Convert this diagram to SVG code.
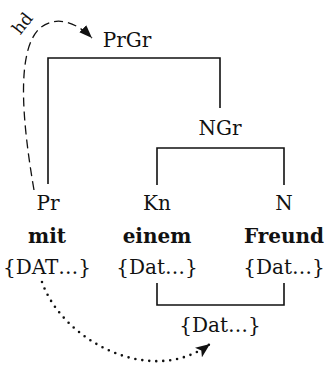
<svg xmlns="http://www.w3.org/2000/svg" width="327" height="368" viewBox="0 0 327 368">
<style>
text{font-family:"DejaVu Serif","Liberation Serif",serif;font-size:20px;fill:#111;text-anchor:middle}
.b{font-weight:bold}
.ln{fill:none;stroke:#111;stroke-width:1.6}
.dash{fill:none;stroke:#111;stroke-width:1.3;stroke-dasharray:9 5}
.dot{fill:none;stroke:#111;stroke-width:2.6;stroke-linecap:round;stroke-dasharray:0 7}
</style>
<defs>
<marker id="ah" viewBox="0 0 12 9" refX="12" refY="4.5" markerWidth="13" markerHeight="10" markerUnits="userSpaceOnUse" orient="auto">
<path d="M0,0 L12,4.5 L0,9 Z" fill="#111"/>
</marker>
<marker id="ah2" viewBox="0 0 12 10" refX="12" refY="5" markerWidth="15" markerHeight="12" markerUnits="userSpaceOnUse" orient="auto">
<path d="M0,0 L12,5 L0,10 L3,5 Z" fill="#111"/>
</marker>
</defs>
<g id="connectors">
<path class="ln" d="M48,184 V58 H220 V108"/>
<path class="ln" d="M157,185 V148 H284 V185"/>
<path class="ln" d="M157,283 V305 H284 V283"/>
<path class="dash" d="M34,190 C22,120 16,50 40,28 C56,15 76,22 92,38" marker-end="url(#ah)"/>
<path class="dot" d="M42,282 C62,340 150,388 210,344" marker-end="url(#ah2)"/>
<text transform="translate(27,27) rotate(-52)" style="font-size:17px">hd</text>
</g>
<g id="PrGr"><text x="127" y="47">PrGr</text></g>
<g id="NGr"><text x="220" y="135">NGr</text></g>
<g id="Pr"><text x="48" y="210">Pr</text><text class="b" x="47" y="243">mit</text><text x="47" y="274">{DAT…}</text></g>
<g id="Kn"><text x="157" y="210">Kn</text><text class="b" x="157" y="243">einem</text><text x="157" y="274">{Dat…}</text></g>
<g id="N"><text x="284" y="210">N</text><text class="b" x="284" y="243">Freund</text><text x="284" y="274">{Dat…}</text></g>
<g id="Dat"><text x="220" y="332">{Dat…}</text></g>
</svg>
